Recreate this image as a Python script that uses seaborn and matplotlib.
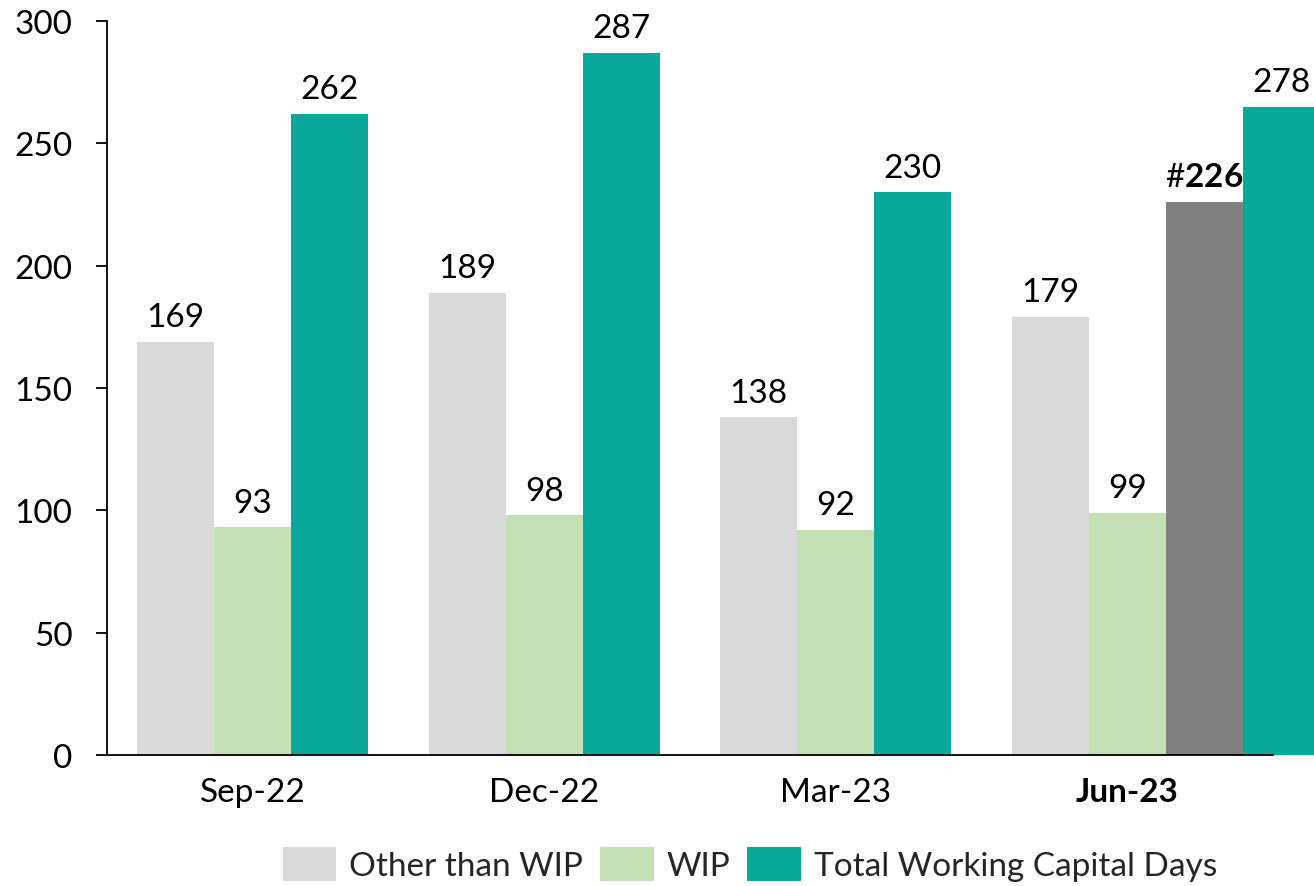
import matplotlib
matplotlib.use('Agg')
import matplotlib.pyplot as plt
import seaborn as sns
import pandas as pd
from matplotlib.patches import Patch

# ---------------- data ----------------
periods = ['Sep-22', 'Dec-22', 'Mar-23', 'Jun-23']
other_than_wip = [169, 189, 138, 179]
wip = [93, 98, 92, 99]
total_wc_days = [262, 287, 230, 265]          # bar heights as drawn in the source
total_labels = ['262', '287', '230', '278']   # labels printed above them
jun_extra = 226                               # extra dark grey bar for Jun-23
series_names = ['Other than WIP', 'WIP', 'Total Working Capital Days']
colors = ['#D9D9D9', '#C5E0B4', '#09A89A']
extra_color = '#808080'

df = pd.DataFrame({
    'Period': periods * 3,
    'Series': [s for s in series_names for _ in periods],
    'Days': other_than_wip + wip + total_wc_days,
})

sns.set_theme(style='white')
plt.rcParams['font.family'] = ['Lato', 'DejaVu Sans']
plt.rcParams['mathtext.fontset'] = 'custom'
plt.rcParams['mathtext.rm'] = 'Lato'
plt.rcParams['mathtext.bf'] = 'Lato:bold'

fig = plt.figure(figsize=(13.14, 8.87), dpi=100)
ax = fig.add_axes([107 / 1314, 131 / 887, 1166 / 1314, 734 / 887])

sns.barplot(data=df, x='Period', y='Days', hue='Series', hue_order=series_names,
            palette=colors, saturation=1, width=0.792, errorbar=None,
            linewidth=0, legend=False, ax=ax)

bw = 0.792 / 3
fs = 24

# Jun-23: total bar moves one slot right, dark grey bar takes its place
teal_jun = ax.containers[2][3]
teal_jun.set_x(teal_jun.get_x() + bw)
teal_jun.set_clip_on(False)
ax.bar(3 + bw, jun_extra, width=bw, color=extra_color, linewidth=0)

# value labels
for cont, labs in zip(ax.containers[:3], [[str(v) for v in other_than_wip],
                                          [str(v) for v in wip], total_labels]):
    for bar, lab in zip(cont, labs):
        ax.annotate(lab, (bar.get_x() + bar.get_width() / 2, bar.get_height()),
                    xytext=(0, 7), textcoords='offset points', ha='center',
                    va='bottom', fontsize=fs, color='black', annotation_clip=False)
ax.annotate(r'#$\mathbf{' + str(jun_extra) + '}$', (3 + bw, jun_extra),
            xytext=(0, 7), textcoords='offset points', ha='center', va='bottom',
            fontsize=fs, color='black')

ax.set_xlim(-0.5, 3.5)
ax.set_ylim(0, 300)
ax.set_yticks(range(0, 301, 50))
ax.set_xlabel('')
ax.set_ylabel('')
ax.tick_params(axis='y', left=True, length=8, width=1.3, color='black',
               direction='out', pad=17, labelsize=fs, labelcolor='black')
ax.tick_params(axis='x', bottom=False, pad=10, labelsize=fs, labelcolor='black')
ax.get_xticklabels()[3].set_fontweight('bold')

sns.despine(ax=ax)
for s in ['left', 'bottom']:
    ax.spines[s].set_color('black')
    ax.spines[s].set_linewidth(1.3)

handles = [Patch(facecolor=c, edgecolor='none') for c in colors]
fig.legend(handles, series_names, loc='center', bbox_to_anchor=(750 / 1314, 1 - 865 / 887),
           ncol=3, frameon=False, fontsize=fs, handlelength=53 / 33, handleheight=39 / 33,
           handletextpad=0.4, columnspacing=0.5, borderaxespad=0)

fig.savefig('out.png', dpi=100)
